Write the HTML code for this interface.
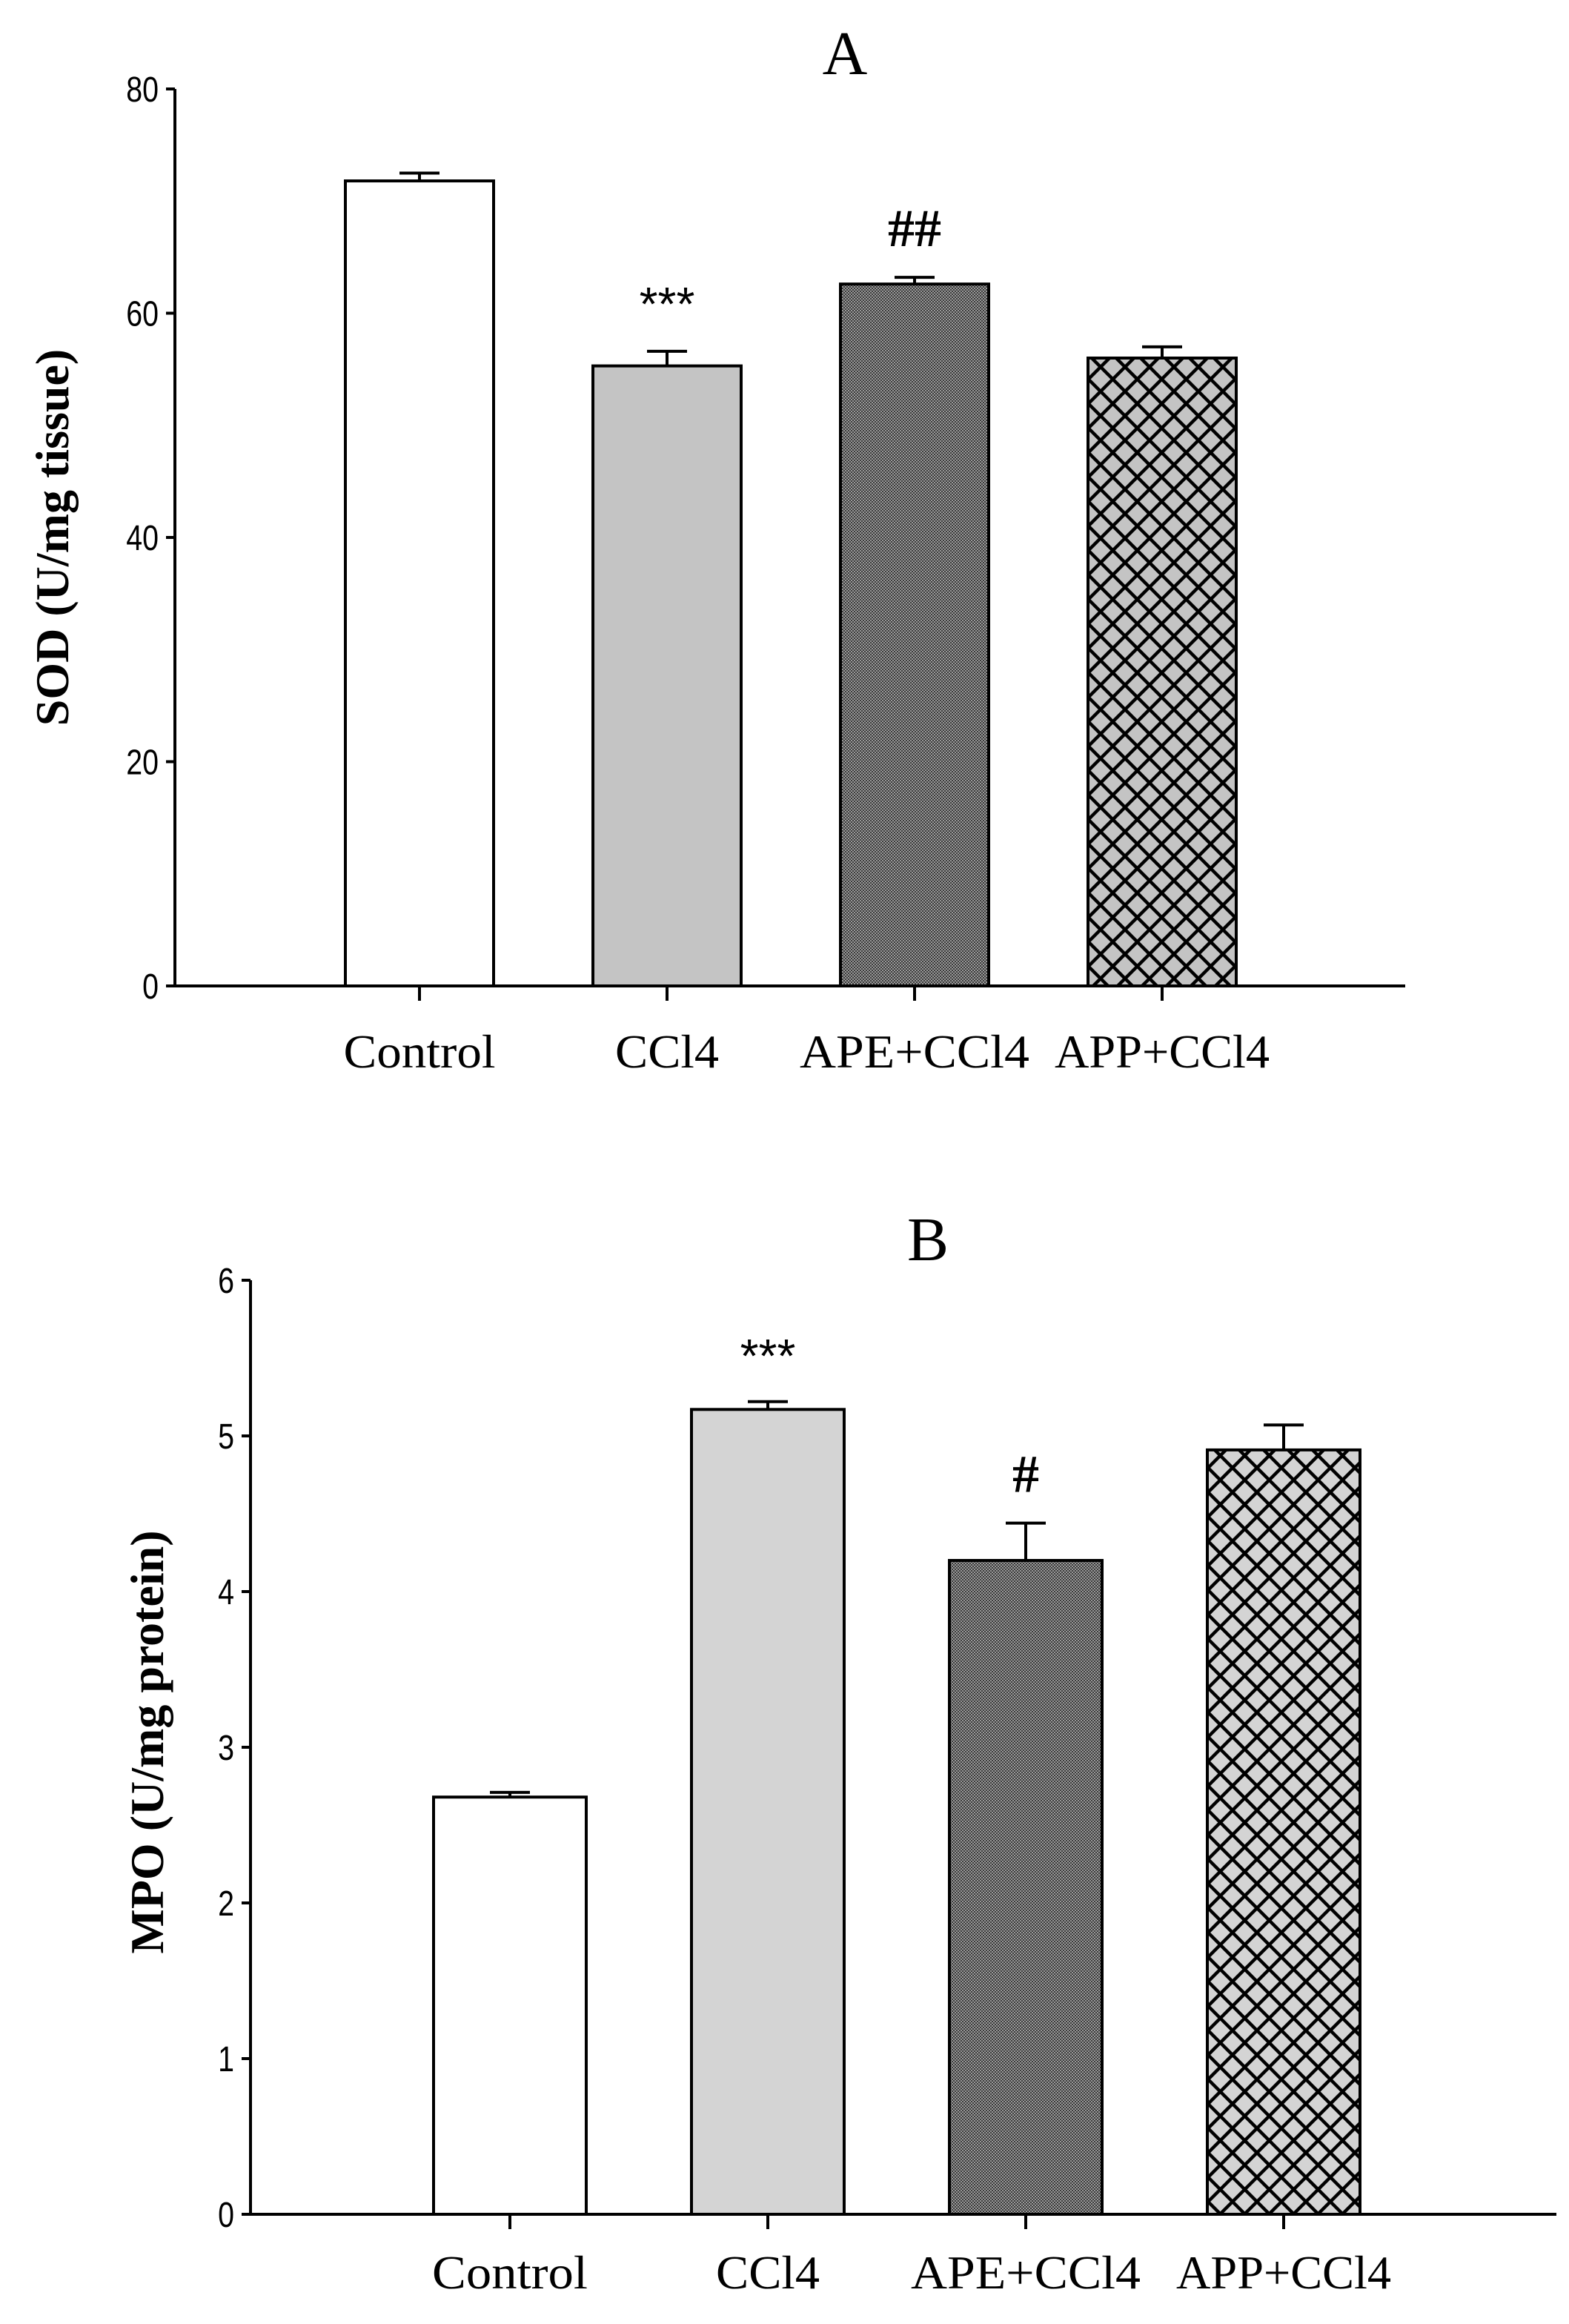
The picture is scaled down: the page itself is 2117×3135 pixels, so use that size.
<!DOCTYPE html>
<html><head><meta charset="utf-8"><style>
html,body{margin:0;padding:0;background:#fff;}
svg{display:block;}
</style></head><body>
<svg id="fig" width="2117" height="3135" viewBox="0 0 2117 3135" xmlns="http://www.w3.org/2000/svg">
<defs>
<pattern id="fine" width="4" height="4" patternUnits="userSpaceOnUse">
<rect width="4" height="4" fill="#9a9a9a"/><rect width="2" height="2" fill="#3a3a3a"/><rect x="2" y="2" width="2" height="2" fill="#3a3a3a"/>
</pattern>
<pattern id="crossA" width="33" height="33" patternUnits="userSpaceOnUse" x="1452" y="0">
<rect width="33" height="33" fill="#c4c4c4"/>
<path d="M0 0L33 33M33 0L0 33M-3 30L3 36M30 -3L36 3M-3 3L3 -3M30 36L36 30" stroke="#000" stroke-width="4.5"/>
</pattern>
<pattern id="crossB" width="33" height="33" patternUnits="userSpaceOnUse" x="1630" y="0">
<rect width="33" height="33" fill="#d4d4d4"/>
<path d="M0 0L33 33M33 0L0 33M-3 30L3 36M30 -3L36 3M-3 3L3 -3M30 36L36 30" stroke="#000" stroke-width="4.5"/>
</pattern>
</defs>
</svg>
<script>
const categories = ["Control","CCl4","APE+CCl4","APP+CCl4"];
const sodValues = [71.8,55.3,62.6,56.0];
const sodErrors = [0.7,1.3,0.6,1.0];
const sodTicks = [0,20,40,60,80];
const sodMarks = ["","***","##",""];
const mpoValues = [2.68,5.17,4.20,4.91];
const mpoErrors = [0.03,0.05,0.24,0.16];
const mpoTicks = [0,1,2,3,4,5,6];
const mpoMarks = ["","***","#",""];

const NS="http://www.w3.org/2000/svg";
const svg=document.getElementById('fig');
function mk(tag,attrs,parent,text){const e=document.createElementNS(NS,tag);for(const k in attrs)e.setAttribute(k,attrs[k]);if(text!==undefined)e.textContent=text;(parent||svg).appendChild(e);return e;}

function drawChart(cfg){
  const g=mk('g',{});
  
  
  const yScale=v=>cfg.y0+(cfg.y1-cfg.y0)*(v-cfg.min)/(cfg.max-cfg.min);
  const xCenter=i=>cfg.xFirst+i*cfg.xStep;
  const fills=cfg.fills;
  const t=mk('text',{x:cfg.titleX,y:cfg.titleY,'font-family':'Liberation Serif, serif','font-size':84,'text-anchor':'middle'},g,cfg.title);
  
  
  cfg.values.forEach((v,i)=>{
    const cx=xCenter(i), top=yScale(v), bot=yScale(0);
    const eb=mk('path',{d:`M${cx} ${top}V${yScale(v+cfg.errors[i])}M${cx-27} ${yScale(v+cfg.errors[i])}H${cx+27}`,stroke:'#000','stroke-width':4,fill:'none'},g);
    
    
    const r=mk('rect',{x:cx-cfg.barW/2,y:top,width:cfg.barW,height:bot-top,fill:fills[i],stroke:'#000','stroke-width':4},g);
    
    
    if(cfg.marks[i]){
      const star=cfg.marks[i].includes('*');
      const m=mk('text',{x:cx,y:yScale(v+cfg.errors[i])-cfg.markOff[i],'font-family':star?'Liberation Sans, sans-serif':'Liberation Serif, serif','font-size':star?64:72,'font-weight':star?'normal':'bold','text-anchor':'middle'},g,cfg.marks[i]);
      
      
    }
    const tk=mk('line',{x1:cx,x2:cx,y1:bot,y2:bot+20,stroke:'#000','stroke-width':4},g);
    
    
    const lb=mk('text',{x:cx,y:cfg.labelY,'font-family':'Liberation Serif, serif','font-size':64,'text-anchor':'middle',textLength:cfg.labelLen[i],lengthAdjust:'spacingAndGlyphs'},g,categories[i]);
    
    
  });
  const ya=mk('line',{x1:cfg.axisX,x2:cfg.axisX,y1:yScale(cfg.max),y2:yScale(cfg.min)+2,stroke:'#000','stroke-width':4},g);
  
  
  const xa=mk('line',{x1:cfg.axisX-12,x2:cfg.axisEnd,y1:yScale(0),y2:yScale(0),stroke:'#000','stroke-width':4},g);
  
  
  cfg.ticks.forEach(tv=>{
    const y=yScale(tv);
    const l=mk('line',{x1:cfg.axisX-12,x2:cfg.axisX,y1:y,y2:y,stroke:'#000','stroke-width':4},g);
    
    
    const tl=mk('text',{x:cfg.axisX-22,y:y+17,'font-family':'Liberation Sans, sans-serif','font-size':48,'text-anchor':'end',transform:`translate(${(cfg.axisX-22)*0.18} 0) scale(0.82 1)`},g,String(tv));
    
    
  });
  const yt=mk('text',{x:0,y:0,'font-family':'Liberation Serif, serif','font-size':64,'font-weight':'bold','text-anchor':'middle',transform:`translate(${cfg.yTitleX} ${cfg.yTitleY}) rotate(-90)`},g,cfg.yTitle);
  
  
}

drawChart({id:'sod',title:'A',titleX:1140,titleY:100,values:sodValues,errors:sodErrors,marks:sodMarks,markOff:[0,42,42,0],ticks:sodTicks,
  min:0,max:80,y0:1330,y1:120,axisX:236,axisEnd:1896,xFirst:566,xStep:334,barW:200,labelY:1440,labelLen:[205,140,310,290],
  fills:['#ffffff','#c4c4c4','url(#fine)','url(#crossA)'],yTitle:'SOD (U/mg tissue)',yTitleX:92,yTitleY:725});
drawChart({id:'mpo',title:'B',titleX:1252,titleY:1700,values:mpoValues,errors:mpoErrors,marks:mpoMarks,markOff:[0,40,42,0],ticks:mpoTicks,
  min:0,max:6,y0:2987,y1:1727,axisX:338,axisEnd:2100,xFirst:688,xStep:348,barW:206,labelY:3087,labelLen:[210,140,310,290],
  fills:['#ffffff','#d4d4d4','url(#fine)','url(#crossB)'],yTitle:'MPO (U/mg protein)',yTitleX:220,yTitleY:2350});
</script>
</body></html>
